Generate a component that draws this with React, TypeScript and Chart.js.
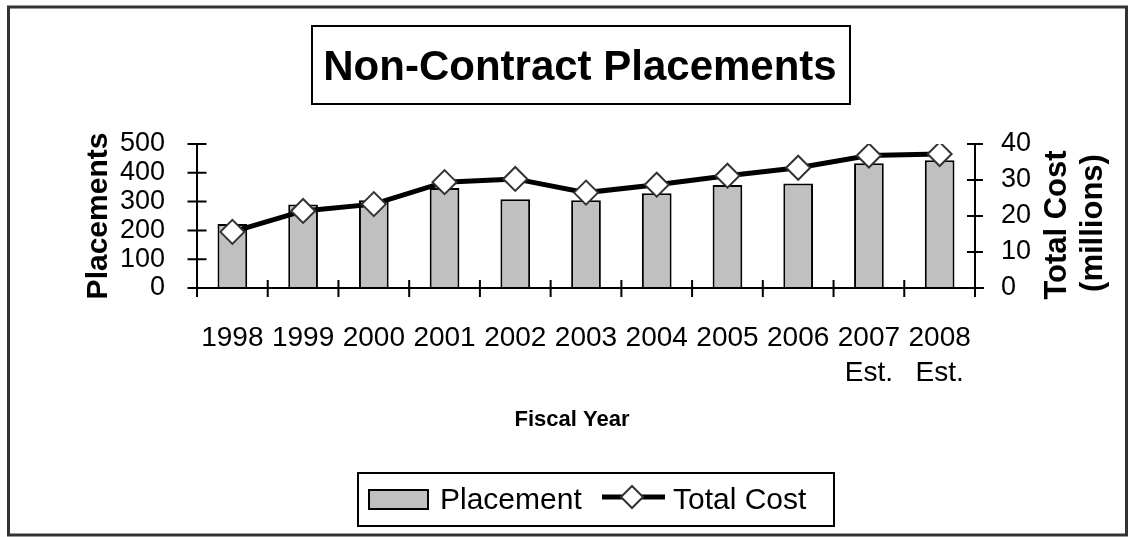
import React, { useEffect, useRef } from "react";
import { Chart, registerables } from "chart.js";

Chart.register(...registerables);

const categories: (string | string[])[] = [
  "1998", "1999", "2000", "2001", "2002", "2003", "2004", "2005", "2006",
  ["2007", "Est."], ["2008", "Est."],
];
const placements = [222, 290, 305, 347, 308, 305, 329, 358, 363, 433, 444];
const totalCost = [15.6, 21.4, 23.3, 29.4, 30.3, 26.5, 28.7, 31.2, 33.4, 36.8, 37.2];
const leftTicks = [0, 100, 200, 300, 400, 500];
const rightTicks = [0, 10, 20, 30, 40];

const FONT = "'Liberation Sans', Arial, sans-serif";

const decorPlugin = {
  id: "decor",
  afterDatasetsDraw(chart: any) {
    const { ctx, chartArea } = chart;
    const { left, right, top, bottom } = chartArea;
    const sx = chart.scales.x;
    const sy = chart.scales.y;
    const sy1 = chart.scales.y1;
    ctx.save();
    ctx.strokeStyle = "#000";
    ctx.lineWidth = 2;
    ctx.beginPath();
    ctx.moveTo(left, top); ctx.lineTo(left, bottom);
    ctx.moveTo(right, top); ctx.lineTo(right, bottom);
    ctx.moveTo(left - 9, bottom); ctx.lineTo(right + 9, bottom);
    sy.ticks.forEach((t: any) => {
      const y = sy.getPixelForValue(t.value);
      ctx.moveTo(left - 9.5, y); ctx.lineTo(left + 9.5, y);
    });
    sy1.ticks.forEach((t: any) => {
      const y = sy1.getPixelForValue(t.value);
      ctx.moveTo(right - 8, y); ctx.lineTo(right + 8, y);
    });
    const n = categories.length;
    const x0 = sx.getPixelForValue(0);
    const step = sx.getPixelForValue(1) - x0;
    for (let i = 0; i <= n; i++) {
      const x = x0 + (i - 0.5) * step;
      ctx.moveTo(x, bottom - 8); ctx.lineTo(x, bottom + 9);
    }
    ctx.stroke();
    ctx.restore();
  },
  afterDraw(chart: any) {
    const { ctx } = chart;
    ctx.save();
    ctx.strokeStyle = "#333";
    ctx.lineWidth = 3;
    ctx.strokeRect(8.5, 7, 1118, 528);
    ctx.strokeStyle = "#000";
    ctx.lineWidth = 2;
    ctx.strokeRect(312, 26, 538, 78);
    ctx.fillStyle = "#000";
    ctx.textAlign = "center";
    ctx.textBaseline = "alphabetic";
    ctx.font = `bold 42px ${FONT}`;
    ctx.fillText("Non-Contract Placements", 580, 80);
    ctx.font = `bold 22px ${FONT}`;
    ctx.fillText("Fiscal Year", 572, 426);
    ctx.font = `bold 30px ${FONT}`;
    ctx.save();
    ctx.translate(107, 216);
    ctx.rotate(-Math.PI / 2);
    ctx.fillText("Placements", 0, 0);
    ctx.restore();
    ctx.font = `bold 31px ${FONT}`;
    ctx.save();
    ctx.translate(1066, 225);
    ctx.rotate(-Math.PI / 2);
    ctx.fillText("Total Cost", 0, 0);
    ctx.restore();
    ctx.save();
    ctx.translate(1102, 223);
    ctx.rotate(-Math.PI / 2);
    ctx.fillText("(millions)", 0, 0);
    ctx.restore();
    const barDs = chart.data.datasets[1];
    const lineDs = chart.data.datasets[0];
    ctx.strokeStyle = "#000";
    ctx.lineWidth = 2;
    ctx.strokeRect(358, 473, 476, 53);
    ctx.fillStyle = barDs.backgroundColor;
    ctx.fillRect(369, 490, 59, 19);
    ctx.strokeStyle = barDs.borderColor;
    ctx.lineWidth = 2;
    ctx.strokeRect(369, 490, 59, 19);
    ctx.fillStyle = "#000";
    ctx.textAlign = "left";
    ctx.font = `30px ${FONT}`;
    ctx.fillText(barDs.label, 440, 509);
    ctx.strokeStyle = lineDs.borderColor;
    ctx.lineWidth = 5;
    ctx.beginPath();
    ctx.moveTo(602, 497); ctx.lineTo(665, 497);
    ctx.stroke();
    ctx.beginPath();
    ctx.moveTo(632, 486); ctx.lineTo(643, 497); ctx.lineTo(632, 508); ctx.lineTo(621, 497); ctx.closePath();
    ctx.fillStyle = "#fff";
    ctx.fill();
    ctx.strokeStyle = "#333";
    ctx.lineWidth = 2;
    ctx.stroke();
    ctx.fillStyle = "#000";
    ctx.fillText(lineDs.label, 673, 509);
    ctx.restore();
  },
};

export default function App() {
  const ref = useRef<HTMLCanvasElement | null>(null);
  useEffect(() => {
    if (!ref.current) return;
    const chart = new Chart(ref.current, {
      type: "bar",
      data: {
        labels: categories,
        datasets: [
          {
            type: "line",
            label: "Total Cost",
            data: totalCost,
            yAxisID: "y1",
            borderColor: "#000",
            borderWidth: 5,
            pointStyle: "rectRot",
            pointRadius: 12,
            pointBackgroundColor: "#fff",
            pointBorderColor: "#333",
            pointBorderWidth: 2,
            tension: 0,
            order: 0,
          } as any,
          {
            type: "bar",
            label: "Placement",
            data: placements,
            yAxisID: "y",
            backgroundColor: "#c0c0c0",
            borderColor: "#000",
            borderWidth: 2,
            categoryPercentage: 1,
            barPercentage: 0.42,
            order: 1,
          },
        ],
      },
      options: {
        responsive: false,
        devicePixelRatio: 1,
        animation: false,
        layout: { padding: { left: 0, right: 0, top: 144, bottom: 0 } },
        plugins: { legend: { display: false }, title: { display: false }, tooltip: { enabled: false } },
        scales: {
          x: {
            type: "category",
            offset: true,
            grid: { display: false, offset: true },
            border: { display: false },
            ticks: {
              color: "#000",
              font: { family: FONT, size: 28, lineHeight: 1.25 },
              padding: 25,
              maxRotation: 0,
              autoSkip: false,
            },
            afterFit: (s: any) => { s.height = 249; },
          },
          y: {
            position: "left",
            min: 0,
            max: 500,
            grid: { display: false },
            border: { display: false },
            ticks: {
              stepSize: 100,
              autoSkip: false,
              color: "#000",
              font: { family: FONT, size: 27 },
              padding: 24,
              callback: (v: any) => (leftTicks.includes(v) ? String(v) : ""),
            },
            afterFit: (s: any) => { s.width = 197; },
          },
          y1: {
            position: "right",
            min: 0,
            max: 40,
            grid: { display: false },
            border: { display: false },
            ticks: {
              stepSize: 10,
              autoSkip: false,
              color: "#000",
              font: { family: FONT, size: 27 },
              padding: 18,
              callback: (v: any) => (rightTicks.includes(v) ? String(v) : ""),
            },
            afterFit: (s: any) => { s.width = 154; },
          },
        },
      },
      plugins: [decorPlugin],
    });
    return () => chart.destroy();
  }, []);
  return (
    <div style={{ position: "absolute", left: 0, top: 0, width: 1129, height: 537, background: "#fff" }}>
      <canvas ref={ref} width={1129} height={537} style={{ display: "block" }} />
    </div>
  );
}
